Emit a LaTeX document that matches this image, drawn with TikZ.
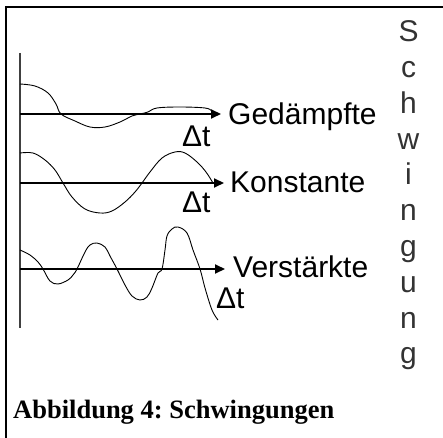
\documentclass[tikz,border=0pt]{standalone}
\usepackage{fontspec}
\setmainfont{Liberation Sans}
\newfontfamily\capfont{Liberation Serif}
\usetikzlibrary{arrows.meta}
\frenchspacing
\begin{document}
\begin{tikzpicture}[x=1bp,y=-1bp,
  lbl/.style={inner sep=0pt, anchor=base west, font=\fontsize{30bp}{36bp}\selectfont},
  vword/.style={inner sep=0pt, anchor=north, align=center, font=\fontsize{30bp}{35.8bp}\selectfont, text=black!80},
  axisline/.style={line width=2bp, -{Triangle[length=10bp,width=9bp]}},
  wave/.style={line width=0.9bp, black}]
\useasboundingbox (0,0) rectangle (443,438);
% frame
\draw[line width=2.4bp] (6,438) -- (6,7) -- (443,7);
% vertical axis
\coordinate (vtop) at (20,53);
\coordinate (vbot) at (20,328);
\draw[line width=2bp, black!75] (vtop) -- (vbot);
% time axes
\coordinate (a1) at (20,114); \coordinate (e1) at (221,114);
\coordinate (a2) at (20,183); \coordinate (e2) at (224,183);
\coordinate (a3) at (20,269); \coordinate (e3) at (225,269);
\draw[axisline] (a1) -- (e1);
\draw[axisline] (a2) -- (e2);
\draw[axisline] (a3) -- (e3);
% labels
\node[lbl] (g) at (228,125) {Gedämpfte};
\node[lbl] (k) at (230,193) {Konstante};
\node[lbl] (v) at (233,277) {Verstärkte};
\node[lbl] (d1) at (182,147) {Δt};
\node[lbl] (d2) at (182,213) {Δt};
\node[lbl] (d3) at (216,308) {Δt};
% waves
\draw[wave] plot[smooth, tension=0.6] coordinates {(20,84) (35,86) (48,93) (56,104) (61,114) (75,121) (90,127) (105,127) (120,122) (132,116) (140,114) (148,112) (157,108) (180,107) (205,108) (212,111) (216,114)};
\draw[wave] plot[smooth, tension=0.6] coordinates {(20,153) (33,153) (45,160) (55,170) (63,183) (72,197) (85,209) (100,213) (112,211) (125,202) (135,192) (142,183) (150,172) (162,158) (175,152) (185,153) (197,162) (206,172) (213,183)};
\draw[wave] plot[smooth, tension=0.6] coordinates {(20,250) (30,255) (38,262) (43,269) (50,281) (58,284) (68,280) (73,275) (77,269) (85,252) (90,245) (97,243) (105,247) (110,256) (117,269) (125,285) (132,296) (140,300) (147,297) (152,288) (158,273) (162,269) (165,250) (167,236) (172,229) (178,227) (187,233) (193,250) (200,269) (205,288) (212,310) (218,320)};
% vertical word
\node[vword] (word) at (408.5,20.5) {S\\c\\h\\w\\i\\n\\g\\u\\n\\g};
% caption
\node[inner sep=0pt, anchor=base west, font=\capfont\bfseries\fontsize{26.5bp}{30bp}\selectfont] (cap) at (13,418) {Abbildung 4: Schwingungen};
\end{tikzpicture}
\end{document}
